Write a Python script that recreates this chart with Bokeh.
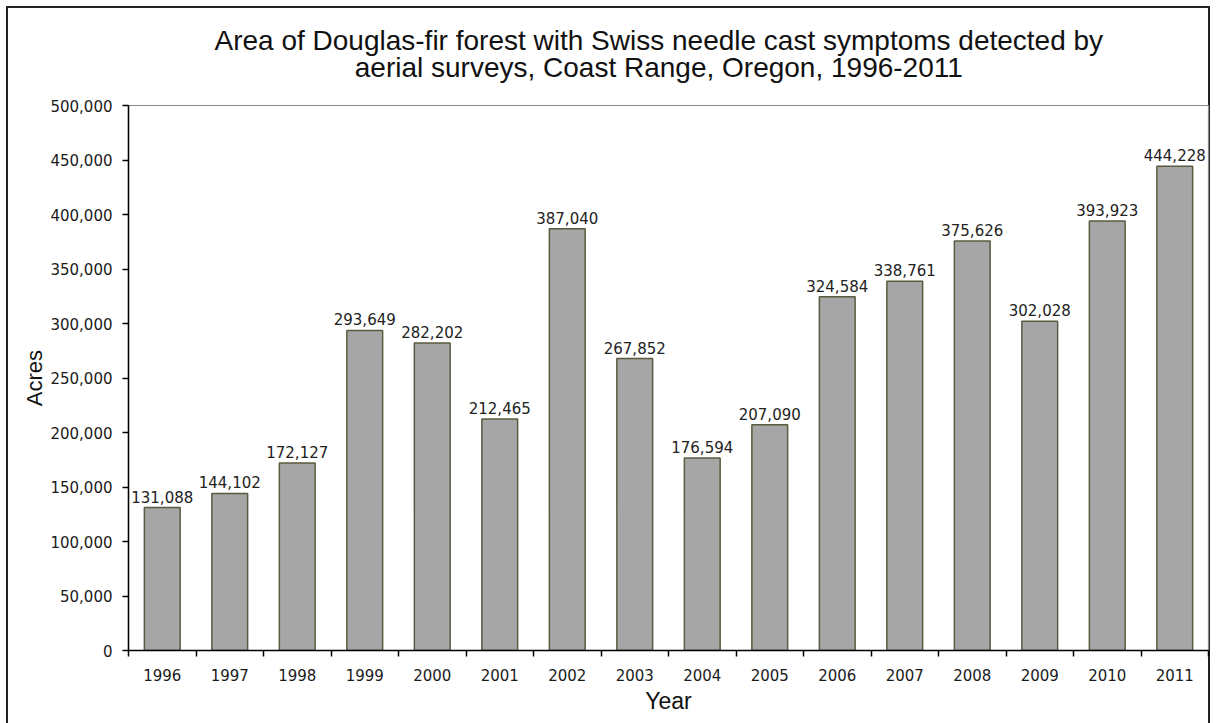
from bokeh.plotting import figure
from bokeh.models import ColumnDataSource, FixedTicker, NumeralTickFormatter, Range1d, Title
from bokeh.core.properties import value
from bokeh.embed import file_html
from bokeh.resources import INLINE

years = ["1996", "1997", "1998", "1999", "2000", "2001", "2002", "2003",
         "2004", "2005", "2006", "2007", "2008", "2009", "2010", "2011"]
acres = [131088, 144102, 172127, 293649, 282202, 212465, 387040, 267852,
         176594, 207090, 324584, 338761, 375626, 302028, 393923, 444228]
y_ticks = [0, 50000, 100000, 150000, 200000, 250000, 300000, 350000, 400000, 450000, 500000]
title_lines = ["Area of Douglas-fir forest with Swiss needle cast symptoms detected by",
               "aerial surveys, Coast Range, Oregon, 1996-2011"]

centers = [i + 0.5 for i in range(len(years))]
bounds = [float(i) for i in range(len(years) + 1)]
labels = [f"{v:,}" for v in acres]

src = ColumnDataSource(dict(x=centers, y=acres, label=labels, year=years))

p = figure(width=1216, height=723, output_backend="svg", toolbar_location=None,
           x_range=Range1d(0, len(years)), y_range=Range1d(0, 500000),
           min_border_left=128, min_border_right=8, min_border_top=104, min_border_bottom=73)

p.border_fill_color = None
p.background_fill_color = None
p.outline_line_color = "#8a8a8a"
p.outline_line_width = 1.2
p.grid.visible = False
p.styles = {"box-shadow": "inset 6px 6px 0 0 white, inset -6px 0 0 0 white, "
                          "inset 8px 8px 0 0 #222, inset -8px 0 0 0 #222"}

p.vbar(x="x", top="y", width=0.53, bottom=0, source=src,
       fill_color="#a6a6a6", line_color="#5a5a3e", line_width=1.5)

p.text(x="x", y="y", text="label", source=src, text_align="center", text_baseline="bottom",
       y_offset=-5, text_font=value("DejaVu Sans"), text_font_size="15px", text_color="#222")

# x axis
xa = p.xaxis[0]
xa.ticker = FixedTicker(ticks=centers, minor_ticks=bounds)
xa.major_label_overrides = {c: y for c, y in zip(centers, years)}
xa.major_tick_line_color = None
xa.major_tick_out = 0
xa.major_tick_in = 0
xa.minor_tick_out = 6
xa.minor_tick_in = 0
xa.minor_tick_line_color = "black"
xa.minor_tick_line_width = 1.5
xa.axis_line_color = "black"
xa.axis_line_width = 1.5
xa.major_label_text_font = "DejaVu Sans"
xa.major_label_text_font_size = "15px"
xa.major_label_text_color = "#1a1a1a"
xa.major_label_standoff = 12
xa.axis_label = "Year"
xa.axis_label_text_font = "Liberation Sans"
xa.axis_label_text_font_size = "23px"
xa.axis_label_text_font_style = "normal"
xa.axis_label_text_color = "#111"
xa.axis_label_standoff = 4

# y axis
ya = p.yaxis[0]
ya.ticker = FixedTicker(ticks=y_ticks, minor_ticks=[])
ya.formatter = NumeralTickFormatter(format="0,0")
ya.major_tick_out = 6
ya.major_tick_in = 0
ya.major_tick_line_width = 1.5
ya.minor_tick_line_color = None
ya.axis_line_color = "black"
ya.axis_line_width = 1.5
ya.major_label_text_font = "DejaVu Sans"
ya.major_label_text_font_size = "15px"
ya.major_label_text_color = "#1a1a1a"
ya.major_label_standoff = 10
ya.axis_label = "Acres"
ya.axis_label_text_font = "Liberation Sans"
ya.axis_label_text_font_size = "22px"
ya.axis_label_text_font_style = "normal"
ya.axis_label_text_color = "#111"
ya.axis_label_standoff = 0

t = Title(text="\n".join(title_lines), align="left", text_align="center",
          text_font="Liberation Sans", text_font_size="28px", text_font_style="normal",
          text_color="#111", text_line_height=0.9, standoff=44, offset=86)
p.add_layout(t, "above")

open("out.html", "w").write(file_html(p, INLINE))
